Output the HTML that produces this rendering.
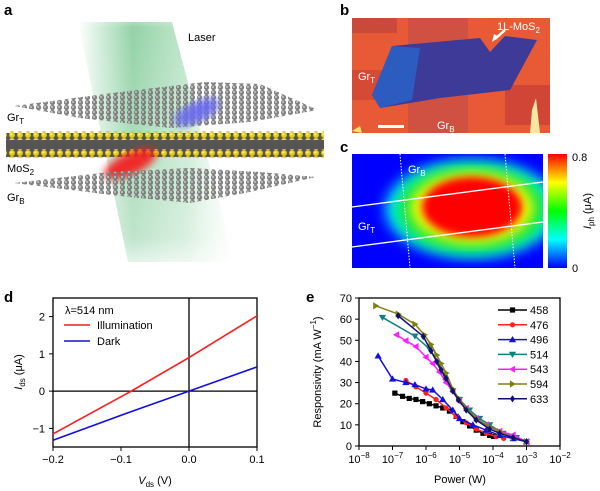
<!DOCTYPE html>
<html><head><meta charset="utf-8"><style>
body{margin:0;background:#fff;}
svg{display:block;font-family:"Liberation Sans",sans-serif;}
</style></head><body>
<svg width="600" height="491" viewBox="0 0 600 491">
<defs>
<linearGradient id="beam" x1="0" y1="0" x2="1" y2="0">
<stop offset="0" stop-color="#6fc38a" stop-opacity="0"/><stop offset="0.35" stop-color="#6fc38a" stop-opacity="0.75"/><stop offset="0.7" stop-color="#8fd3a3" stop-opacity="0.55"/><stop offset="1" stop-color="#b8e6c4" stop-opacity="0"/></linearGradient>
<linearGradient id="beamv" x1="0" y1="0" x2="0" y2="1"><stop offset="0" stop-color="#fff" stop-opacity="0"/><stop offset="0.1" stop-color="#fff" stop-opacity="1"/><stop offset="0.85" stop-color="#fff" stop-opacity="0.6"/><stop offset="1" stop-color="#fff" stop-opacity="0"/></linearGradient>
<mask id="bm"><rect x="0" y="0" width="330" height="280" fill="url(#beamv)"/></mask>
<filter id="bl4"><feGaussianBlur stdDeviation="4"/></filter>
<filter id="bl6"><feGaussianBlur stdDeviation="7"/></filter>
<linearGradient id="cbar" x1="0" y1="1" x2="0" y2="0">
<stop offset="0" stop-color="#0000ff"/><stop offset="0.25" stop-color="#00ffff"/><stop offset="0.5" stop-color="#00ff00"/><stop offset="0.75" stop-color="#ffff00"/><stop offset="1" stop-color="#ff0000"/></linearGradient>
<pattern id="atoms" width="7" height="5" patternUnits="userSpaceOnUse"><circle cx="3.5" cy="2.5" r="2.6" fill="#7a7a7a"/><circle cx="3" cy="2" r="1.1" fill="#bbb"/></pattern>
<pattern id="satoms" width="8" height="6" patternUnits="userSpaceOnUse"><circle cx="4" cy="3" r="3" fill="#e0cc10"/><circle cx="3.3" cy="2.3" r="1.2" fill="#fff27a"/></pattern>
</defs>

<!-- panel a -->
<g>
<text x="4" y="15" font-size="15" font-weight="bold">a</text>
<g mask="url(#bm)"><polygon points="78,22 172,22 235,262 128,262" fill="url(#beam)"/></g>
<text x="188" y="41" font-size="11">Laser</text>
<polygon points="14,106 120,92 205,82 260,84 318,110 250,122 170,128 80,118" fill="url(#atoms)" opacity="0.95"/>
<ellipse cx="197" cy="112" rx="24" ry="10" transform="rotate(-25 197 112)" fill="#6a6cf0" filter="url(#bl4)" opacity="0.9"/>
<rect x="6" y="133" width="318" height="24" fill="#555"/>
<rect x="6" y="131" width="318" height="9" fill="url(#satoms)"/>
<rect x="6" y="149" width="318" height="9" fill="url(#satoms)"/>
<ellipse cx="130" cy="164" rx="28" ry="11" transform="rotate(-25 130 164)" fill="#f22020" filter="url(#bl4)" opacity="0.95"/>
<polygon points="14,183 110,172 190,168 260,172 316,177 250,192 190,203 120,196" fill="url(#atoms)" opacity="0.95"/>
<text x="7" y="121" font-size="11">Gr<tspan font-size="8" dy="3">T</tspan></text>
<text x="7" y="172" font-size="11">MoS<tspan font-size="8" dy="3">2</tspan></text>
<text x="7" y="201" font-size="11">Gr<tspan font-size="8" dy="3">B</tspan></text>
</g>

<!-- panel b -->
<g>
<text x="340" y="15" font-size="15" font-weight="bold">b</text>
<rect x="352" y="18" width="198" height="115" fill="#e85a35"/>
<rect x="352" y="18" width="45" height="15" fill="#c94a38"/>
<rect x="352" y="70" width="30" height="30" fill="#d54a35"/>
<rect x="408" y="18" width="60" height="115" fill="#c94d45" opacity="0.8"/>
<rect x="505" y="85" width="45" height="40" fill="#d04535"/>
<polygon points="372,95 392,46 480,38 490,52 505,36 537,40 510,90 440,98 380,108" fill="#3d3a98"/>
<polygon points="372,95 392,46 420,48 412,100 380,108" fill="#2d5cc0"/>
<polygon points="352,131 360,126 362,133" fill="#f6e070"/>
<polygon points="530,133 532,110 536,98 540,133" fill="#f6e7a0"/>
<rect x="378" y="125" width="26" height="3" fill="#fff"/>
<line x1="505" y1="30" x2="495" y2="39" stroke="#fff" stroke-width="2.5"/>
<polygon points="492,42 494,34 499,37" fill="#fff"/>
<text x="497" y="30" font-size="11" fill="#fff">1L-MoS<tspan font-size="8" dy="3">2</tspan></text>
<text x="358" y="80" font-size="11" fill="#fff">Gr<tspan font-size="8" dy="3">T</tspan></text>
<text x="437" y="129" font-size="11" fill="#fff">Gr<tspan font-size="8" dy="3">B</tspan></text>
</g>

<!-- panel c -->
<g>
<text x="340" y="152" font-size="15" font-weight="bold">c</text>
<svg x="352" y="154" width="191" height="114" overflow="hidden">
<rect width="191" height="114" fill="#0000ff"/>
<ellipse cx="120" cy="55" rx="86" ry="48" fill="#00ffff" filter="url(#bl6)"/>
<ellipse cx="120" cy="55" rx="76" ry="44" fill="#00e040" filter="url(#bl6)"/>
<ellipse cx="120" cy="54" rx="62" ry="36" fill="#ffff00" filter="url(#bl6)"/>
<ellipse cx="120" cy="53" rx="50" ry="30" fill="#ff0000" filter="url(#bl4)"/>
<line x1="0" y1="53" x2="191" y2="28" stroke="#fff" stroke-width="1.3"/>
<line x1="0" y1="93" x2="191" y2="68" stroke="#fff" stroke-width="1.3"/>
<line x1="48" y1="0" x2="58" y2="114" stroke="#fff" stroke-width="1" stroke-dasharray="1.5,1.5"/>
<line x1="153" y1="0" x2="163" y2="114" stroke="#fff" stroke-width="1" stroke-dasharray="1.5,1.5"/>
</svg>
<text x="408" y="173" font-size="11" fill="#fff">Gr<tspan font-size="8" dy="3">B</tspan></text>
<text x="358" y="230" font-size="11" fill="#fff">Gr<tspan font-size="8" dy="3">T</tspan></text>
<rect x="548" y="154" width="19" height="114" fill="url(#cbar)"/>
<text x="572" y="161" font-size="11">0.8</text>
<text x="572" y="272" font-size="11">0</text>
<text transform="translate(591 211) rotate(-90)" font-size="11" text-anchor="middle"><tspan font-style="italic">I</tspan><tspan font-size="8" dy="3">ph</tspan><tspan dy="-3"> (μA)</tspan></text>
</g>

<g id="pd"></g>
<g id="pe"></g>
</svg>
<script>
const NS='http://www.w3.org/2000/svg';
function mk(p,t,a,txt){const e=document.createElementNS(NS,t);for(const k in a)e.setAttribute(k,a[k]);if(txt!==undefined)e.textContent=txt;p.appendChild(e);return e;}

// ---- panel d data ----
const dVoltage=[-0.2,-0.085,0,0.1];
const dIllum=[-1.15,0,0.9,2.02];
const dDark=[-1.32,-0.55,0,0.65];
const dXTicks=[-0.2,-0.1,0.0,0.1];
const dXTickLabels=['\u22120.2','\u22120.1','0.0','0.1'];
const dYTicks=[-1,0,1,2];
const dYTickLabels=['\u22121','0','1','2'];

// ---- panel e data ----
const eSeriesNames=['458','476','496','514','543','594','633'];
const eColors=['#000000','#ff2020','#1010e0','#108080','#ff20ff','#808010','#101070'];
const eLogP=[
 [-6.93,-6.7,-6.5,-6.3,-6.1,-5.9,-5.7,-5.5,-5.3,-5.1,-4.9,-4.7,-4.5,-4.3,-4.1,-3.98],
 [-6.6,-6.3,-6.0,-5.7,-5.4,-5.1,-4.8,-4.5,-4.2,-3.9,-3.68],
 [-7.43,-7.0,-6.6,-6.33,-6.0,-5.8,-5.5,-5.2,-5.0,-4.6,-4.2,-3.8,-3.4,-3.0],
 [-7.3,-6.33,-5.9,-5.6,-5.4,-5.2,-5.0,-4.7,-4.4,-4.1,-3.7,-3.3,-3.0],
 [-6.88,-6.6,-6.3,-6.0,-5.8,-5.6,-5.4,-5.2,-5.0,-4.8,-4.5,-4.2,-3.8,-3.4,-3.0],
 [-7.5,-6.83,-6.33,-6.05,-5.85,-5.68,-5.55,-5.4,-5.2,-5.03,-4.8,-4.5,-4.1,-3.8,-3.4,-3.0],
 [-6.83,-6.08,-5.85,-5.68,-5.55,-5.4,-5.2,-5.03,-4.8,-4.5,-4.1,-3.8,-3.4,-3.0]];
const eResp=[
 [25,23.5,22.5,22,21,20,19,18,16.5,14,11.5,9.5,7.5,6,5,4.5],
 [31,28,25,22,18,14,11,8,6,4.5,3.6],
 [42.6,31.7,30,29,27,26.5,22,17,13,10,7.5,5,3.5,2],
 [60.8,52,46,38,30.5,26,22,17,13,10,6,4,2],
 [52.6,49.8,47,42,39,35,30,25.7,21,17.8,13,10,7,5.2,2],
 [66.3,62.4,57.6,52.6,48,43,39,34.5,27,22.6,18,13,9,6.8,4,2],
 [61.6,51.8,45,40,36,32,26,21.8,17,12.3,8,6,4,2]];
const eXTicks=[-8,-7,-6,-5,-4,-3,-2];
const eYTicks=[0,10,20,30,40,50,60,70];
const eMarkers=['square','circle','triUp','triDown','triLeft','triRight','diamond'];

// ---- draw panel d ----
(function(){
const g=document.getElementById('pd');
const L=53,R=257,T=298,B=447;
const xs=v=>L+(v-(-0.2))/(0.1-(-0.2))*(R-L);
const ys=v=>B-(v-(-1.5))/(2.5-(-1.5))*(B-T);
let t=mk(g,'text',{x:4,y:302,'font-size':15,'font-weight':'bold'},'d');


let r=mk(g,'rect',{x:L,y:T,width:R-L,height:B-T,fill:'none',stroke:'#000','stroke-width':1.3});


mk(g,'line',{x1:xs(0),x2:xs(0),y1:T,y2:B,stroke:'#000','stroke-width':1.3});
mk(g,'line',{x1:L,x2:R,y1:ys(0),y2:ys(0),stroke:'#000','stroke-width':1.3});
dXTicks.forEach((v,i)=>{mk(g,'line',{x1:xs(v),x2:xs(v),y1:B,y2:B+4,stroke:'#000'});
 const e=mk(g,'text',{x:xs(v),y:B+16,'font-size':11,'text-anchor':'middle'},dXTickLabels[i]);
 
 });
dYTicks.forEach((v,i)=>{mk(g,'line',{x1:L-4,x2:L,y1:ys(v),y2:ys(v),stroke:'#000'});
 const e=mk(g,'text',{x:L-8,y:ys(v)+4,'font-size':11,'text-anchor':'end'},dYTickLabels[i]);
 
 });
[[dIllum,'#ff1a1a','illumination-line'],[dDark,'#1010dd','dark-line']].forEach(([arr,c,n])=>{
 const p=mk(g,'polyline',{points:dVoltage.map((v,i)=>xs(v)+','+ys(arr[i])).join(' '),fill:'none',stroke:c,'stroke-width':1.6});
 
 });
let x=mk(g,'text',{x:155,y:484,'font-size':11,'text-anchor':'middle'});
x.innerHTML='<tspan font-style="italic">V</tspan><tspan font-size="8" dy="3">ds</tspan><tspan dy="-3"> (V)</tspan>';


let y=mk(g,'text',{transform:'translate(22 372) rotate(-90)','font-size':11,'text-anchor':'middle'});
y.innerHTML='<tspan font-style="italic">I</tspan><tspan font-size="8" dy="3">ds</tspan><tspan dy="-3"> (μA)</tspan>';


let lt=mk(g,'text',{x:65,y:314,'font-size':11},'\u03bb=514 nm');


[['Illumination','#ff1a1a',329],['Dark','#1010dd',345]].forEach(([s,c,yy])=>{
 const le=mk(g,'g',{});
 
 
 mk(le,'line',{x1:64,x2:90,y1:yy-4,y2:yy-4,stroke:c,'stroke-width':1.6});
 mk(le,'text',{x:97,y:yy,'font-size':11},s);});
})();

// ---- draw panel e ----
(function(){
const g=document.getElementById('pe');
const L=359,R=560,T=298,B=446;
const xs=v=>L+(v-(-8))/6*(R-L);
const ys=v=>B-v/70*(B-T);
let t=mk(g,'text',{x:306,y:302,'font-size':15,'font-weight':'bold'},'e');


let r=mk(g,'rect',{x:L,y:T,width:R-L,height:B-T,fill:'none',stroke:'#000','stroke-width':1.3});


eXTicks.forEach(v=>{mk(g,'line',{x1:xs(v),x2:xs(v),y1:B,y2:B+4,stroke:'#000'});
 const e=mk(g,'text',{x:xs(v),y:B+17,'font-size':11,'text-anchor':'middle'});
 e.innerHTML='10<tspan font-size="8" dy="-5">'+(v<0?'\u2212'+(-v):v)+'</tspan>';
 
 });
eYTicks.forEach(v=>{mk(g,'line',{x1:L-4,x2:L,y1:ys(v),y2:ys(v),stroke:'#000'});
 const e=mk(g,'text',{x:L-7,y:ys(v)+4,'font-size':11,'text-anchor':'end'},String(v));
 
 });
function marker(p,type,x,y,c){const s=2.6;let pts;
 if(type==='square')return mk(p,'rect',{x:x-s,y:y-s,width:2*s,height:2*s,fill:c});
 if(type==='circle')return mk(p,'circle',{cx:x,cy:y,r:s,fill:c});
 if(type==='triUp')pts=[[x,y-s-1],[x-s-1,y+s],[x+s+1,y+s]];
 if(type==='triDown')pts=[[x,y+s+1],[x-s-1,y-s],[x+s+1,y-s]];
 if(type==='triLeft')pts=[[x-s-1,y],[x+s,y-s-1],[x+s,y+s+1]];
 if(type==='triRight')pts=[[x+s+1,y],[x-s,y-s-1],[x-s,y+s+1]];
 if(type==='diamond')pts=[[x,y-s-1],[x+s,y],[x,y+s+1],[x-s,y]];
 return mk(p,'polygon',{points:pts.map(q=>q.join(',')).join(' '),fill:c});}
eSeriesNames.forEach((n,si)=>{
 const sg=mk(g,'g',{});
 
 
 mk(sg,'polyline',{points:eLogP[si].map((v,i)=>xs(v)+','+ys(eResp[si][i])).join(' '),fill:'none',stroke:eColors[si],'stroke-width':1.5});
 eLogP[si].forEach((v,i)=>marker(sg,eMarkers[si],xs(v),ys(eResp[si][i]),eColors[si]));
 const le=mk(g,'g',{});
 
 
 const yy=310+si*14.8;
 mk(le,'line',{x1:498,x2:527,y1:yy,y2:yy,stroke:eColors[si],'stroke-width':1.5});
 marker(le,eMarkers[si],512.5,yy,eColors[si]);
 mk(le,'text',{x:530,y:yy+4,'font-size':11},n);});
let x=mk(g,'text',{x:460,y:483,'font-size':11,'text-anchor':'middle'},'Power (W)');


let y=mk(g,'text',{transform:'translate(321 372) rotate(-90)','font-size':11,'text-anchor':'middle'});
y.innerHTML='Responsivity (mA W<tspan font-size="8" dy="-5">\u22121</tspan><tspan dy="5">)</tspan>';


})();
</script>
</body></html>
